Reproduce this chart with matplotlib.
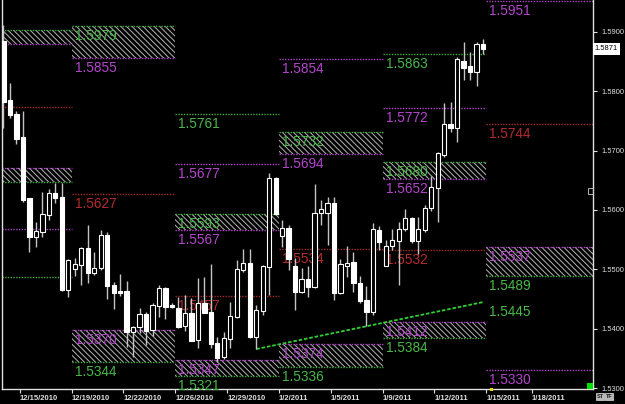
import matplotlib
matplotlib.use("Agg")
import matplotlib.pyplot as plt
from matplotlib.patches import Rectangle
import matplotlib.transforms as mtransforms

# ---------------- data ----------------
opens = [1.5884, 1.5785, 1.5762, 1.5723, 1.5620, 1.5555, 1.5563, 1.5592, 1.5629, 1.5622,
         1.5465, 1.5501, 1.5507, 1.5536, 1.5494, 1.5502, 1.5558, 1.5474, 1.5464, 1.5464,
         1.5395, 1.5403, 1.5425, 1.5398, 1.5438, 1.5469, 1.5440, 1.5435, 1.5405, 1.5427,
         1.5381, 1.5444, 1.5428, 1.5376, 1.5353, 1.5383, 1.5420, 1.5499, 1.5511, 1.5386,
         1.5430, 1.5504, 1.5654, 1.5556, 1.5570, 1.5506, 1.5462, 1.5484, 1.5470, 1.5595,
         1.5595, 1.5612, 1.5460, 1.5506, 1.5512, 1.5477, 1.5449, 1.5428, 1.5566, 1.5506,
         1.5539, 1.5548, 1.5568, 1.5587, 1.5548, 1.5566, 1.5603, 1.5637, 1.5693, 1.5745,
         1.5738, 1.5851, 1.5842, 1.5832, 1.5879]
highs = [1.5911, 1.5814, 1.5767, 1.5767, 1.5621, 1.5580, 1.5630, 1.5635, 1.5645, 1.5645,
         1.5517, 1.5519, 1.5537, 1.5575, 1.5529, 1.5566, 1.5563, 1.5479, 1.5492, 1.5481,
         1.5404, 1.5435, 1.5428, 1.5444, 1.5474, 1.5470, 1.5444, 1.5454, 1.5457, 1.5452,
         1.5486, 1.5487, 1.5509, 1.5386, 1.5395, 1.5445, 1.5516, 1.5534, 1.5534, 1.5440,
         1.5507, 1.5662, 1.5656, 1.5583, 1.5575, 1.5519, 1.5502, 1.5506, 1.5643, 1.5617,
         1.5622, 1.5622, 1.5518, 1.5539, 1.5529, 1.5489, 1.5472, 1.5578, 1.5573, 1.5549,
         1.5568, 1.5580, 1.5602, 1.5588, 1.5588, 1.5608, 1.5657, 1.5698, 1.5780, 1.5782,
         1.5857, 1.5883, 1.5866, 1.5883, 1.5888]
lows = [1.5738, 1.5755, 1.5711, 1.5613, 1.5529, 1.5538, 1.5555, 1.5583, 1.5612, 1.5464,
        1.5454, 1.5489, 1.5474, 1.5477, 1.5491, 1.5499, 1.5450, 1.5433, 1.5455, 1.5369,
        1.5353, 1.5393, 1.5373, 1.5388, 1.5420, 1.5417, 1.5435, 1.5402, 1.5396, 1.5379,
        1.5368, 1.5426, 1.5368, 1.5344, 1.5349, 1.5368, 1.5419, 1.5496, 1.5385, 1.5366,
        1.5423, 1.5457, 1.5592, 1.5538, 1.5499, 1.5432, 1.5460, 1.5454, 1.5469, 1.5575,
        1.5541, 1.5449, 1.5459, 1.5487, 1.5462, 1.5444, 1.5405, 1.5423, 1.5533, 1.5505,
        1.5533, 1.5474, 1.5565, 1.5544, 1.5526, 1.5563, 1.5598, 1.5580, 1.5689, 1.5731,
        1.5714, 1.5819, 1.5819, 1.5809, 1.5862]
closes = [1.5782, 1.5760, 1.5719, 1.5617, 1.5555, 1.5565, 1.5593, 1.5629, 1.5620, 1.5465,
          1.5516, 1.5509, 1.5536, 1.5494, 1.5502, 1.5558, 1.5472, 1.5460, 1.5461, 1.5395,
          1.5403, 1.5425, 1.5396, 1.5440, 1.5469, 1.5437, 1.5437, 1.5403, 1.5427, 1.5380,
          1.5444, 1.5427, 1.5375, 1.5351, 1.5385, 1.5422, 1.5501, 1.5511, 1.5386, 1.5432,
          1.5506, 1.5654, 1.5593, 1.5570, 1.5518, 1.5462, 1.5484, 1.5470, 1.5595, 1.5602,
          1.5612, 1.5460, 1.5509, 1.5511, 1.5477, 1.5447, 1.5428, 1.5568, 1.5546, 1.5539,
          1.5549, 1.5568, 1.5587, 1.5548, 1.5568, 1.5603, 1.5639, 1.5696, 1.5745, 1.5738,
          1.5854, 1.5839, 1.5832, 1.5879, 1.5871]

date_labels = ["12/15/2010", "12/19/2010", "12/22/2010", "12/26/2010", "12/29/2010",
               "1/2/2011", "1/5/2011", "1/9/2011", "1/12/2011", "1/15/2011", "1/18/2011"]
date_positions = [2.5, 10.5, 18.5, 26.5, 34.5, 42.5, 50.5, 58.5, 66.5, 74.5, 81.5]

price_ticks = [1.53, 1.54, 1.55, 1.56, 1.57, 1.58, 1.59]
last_price = 1.5871

# weekly segments (bar index bounds)
seg_bounds = [(-1.0, 10.5), (10.5, 26.5), (26.5, 42.5), (42.5, 58.5), (58.5, 74.5), (74.5, 91.5)]

# single dotted levels: (segment, price, colour, label)
level_seg = [0, 0, 0, 1, 2, 2, 2, 3, 3, 4, 4, 4, 5, 5, 5]
level_price = [1.5773, 1.5568, 1.5487, 1.5627, 1.5761, 1.5677, 1.5455, 1.5854, 1.5534,
               1.5863, 1.5772, 1.5532, 1.5951, 1.5744, 1.5330]
level_color = ["r", "m", "g", "r", "g", "m", "r", "m", "r", "g", "m", "r", "m", "r", "m"]
level_label = [None, None, None, "1.5627", "1.5761", "1.5677", "1.5457", "1.5854", "1.5534",
               "1.5863", "1.5772", "1.5532", "1.5951", "1.5744", "1.5330"]

# hatched zones: (segment, top, bottom, top colour, bottom colour, top label, bottom label)
zone_seg = [0, 0, 1, 1, 2, 2, 3, 3, 4, 4, 5]
zone_top = [1.5903, 1.5671, 1.5910, 1.5398, 1.5593, 1.5347, 1.5732, 1.5374, 1.5680, 1.5412, 1.5537]
zone_bot = [1.5879, 1.5647, 1.5855, 1.5344, 1.5567, 1.5321, 1.5694, 1.5336, 1.5652, 1.5384, 1.5489]
zone_topcol = ["g", "m", "g", "m", "g", "m", "g", "m", "g", "m", "m"]
zone_botcol = ["m", "g", "m", "g", "m", "g", "m", "g", "m", "g", "g"]
zone_toplab = [None, None, "1.5979", "1.5370", "1.5593", "1.5347", "1.5732", "1.5374",
               "1.5680", "1.5412", "1.5537"]
zone_botlab = [None, None, "1.5855", "1.5344", "1.5567", "1.5321", "1.5694", "1.5336",
               "1.5652", "1.5384", "1.5489"]

# trend line
trend_x = [39, 74]
trend_y = [1.5366, 1.5445]
trend_label = "1.5445"

# ---------------- style ----------------
line_cols = {"g": "#3fae3f", "m": "#b040c8", "r": "#a82828"}
text_cols = {"g": "#48b848", "m": "#b445cc", "r": "#b42c2c"}
plt.rcParams["hatch.linewidth"] = 0.7

W, H = 625, 404
fig = plt.figure(figsize=(W / 100, H / 100), dpi=100, facecolor="black")
ax = fig.add_axes([2 / W, 15 / H, 591 / W, 389 / H])
ax.set_facecolor("black")
ax.set_xlim(-0.23, 90.97)
ax.set_ylim(1.52988, 1.59533)

lab_font = dict(family="Liberation Sans", fontsize=9.8)

def put_label(x0, price, txt, col):
    ax.annotate(txt, xy=(x0, price), xytext=(3, -3), textcoords="offset pixels",
                ha="left", va="top", color=text_cols[col], annotation_clip=False, **lab_font)

# zones
for s, t, b, tc, bc, tl, bl in zip(zone_seg, zone_top, zone_bot, zone_topcol, zone_botcol,
                                   zone_toplab, zone_botlab):
    x0, x1 = seg_bounds[s]
    ax.add_patch(Rectangle((x0, b), x1 - x0, t - b, facecolor="none", edgecolor="#b4b4b4",
                           hatch="\\\\\\\\\\\\", linewidth=0, zorder=1))
    ax.hlines(t, x0, x1, colors=line_cols[tc], linestyles=(0, (1, 1)), lw=1, zorder=2)
    ax.hlines(b, x0, x1, colors=line_cols[bc], linestyles=(0, (1, 1)), lw=1, zorder=2)
    if tl:
        put_label(x0, t, tl, tc)
    if bl:
        put_label(x0, b, bl, bc)

# single levels
for s, p, c, l in zip(level_seg, level_price, level_color, level_label):
    x0, x1 = seg_bounds[s]
    ax.hlines(p, x0, x1, colors=line_cols[c], linestyles=(0, (1, 1)), lw=1, zorder=2)
    if l:
        put_label(x0, p, l, c)

# trend line
ax.plot(trend_x, trend_y, color="#2fd02f", lw=1.3, ls=(0, (2, 1)), zorder=3)
ax.annotate(trend_label, xy=(seg_bounds[5][0], trend_y[1]), xytext=(3, -3),
            textcoords="offset pixels", ha="left", va="top", color=text_cols["g"], **lab_font)

# candles
wick_col = "#c4c4c4"
for i, (o, h, l, c) in enumerate(zip(opens, highs, lows, closes)):
    ax.vlines(i, l, h, colors=wick_col, lw=1, zorder=4)
    lo, hi = min(o, c), max(o, c)
    face = "white" if c < o else "black"
    ax.bar(i, max(hi - lo, 0.00003), bottom=lo, width=0.66, color=face, edgecolor="white",
           linewidth=0.8, zorder=5)

# axes styling
ax.spines["top"].set_visible(False)
for side in ["left", "bottom", "right"]:
    ax.spines[side].set_color("#e0e0e0")
    ax.spines[side].set_linewidth(1)

ax.yaxis.tick_right()
ax.set_yticks(price_ticks)
ax.set_yticklabels([f"{v:.4f}" for v in price_ticks])
ax.tick_params(axis="y", colors="#e0e0e0", labelcolor="#e0e0e0", length=3, width=0.8,
               labelsize=5.4, pad=3, direction="out")
ax.set_xticks(date_positions)
ax.set_xticklabels(date_labels, ha="left")
ax.tick_params(axis="x", colors="#e0e0e0", labelcolor="#e0e0e0", length=3, width=0.8,
               labelsize=5.5, pad=1.5, direction="out")
for t in ax.get_xticklabels():
    t.set_family("Liberation Sans")
    t.set_fontweight("bold")
for t in ax.get_yticklabels():
    t.set_family("Liberation Sans")

# current price box
trans = mtransforms.blended_transform_factory(ax.transAxes, ax.transData)
ax.text(1.003, last_price, f"{last_price:.4f}", transform=trans, ha="left", va="center",
        fontsize=5.4, family="Liberation Sans", color="black",
        bbox=dict(facecolor="white", edgecolor="none", boxstyle="square,pad=0.3"),
        clip_on=False)

# small decorations
fig.patches.append(Rectangle((587 / W, 15 / H), 6 / W, 6 / H, transform=fig.transFigure,
                             facecolor="#00e000", edgecolor="none"))
fig.patches.append(Rectangle((489.5 / W, 13 / H), 3 / W, 3 / H, transform=fig.transFigure,
                             facecolor="#e8d800", edgecolor="none"))
fig.patches.append(Rectangle((588 / W, 210 / H), 5 / W, 6 / H, transform=fig.transFigure,
                             facecolor="none", edgecolor="#d0d0d0", lw=0.6))
for xx, tt in [(596, "ST"), (605, "TF")]:
    fig.patches.append(Rectangle((xx / W, 4 / H), 8 / W, 7 / H, transform=fig.transFigure,
                                 facecolor="#b8b8b8", edgecolor="#e0e0e0", lw=0.5))
    fig.text((xx + 4) / W, 7.5 / H, tt, ha="center", va="center", fontsize=4,
             color="#202020", fontweight="bold", family="Liberation Sans")

fig.savefig("out.png", dpi=100, facecolor="black")
